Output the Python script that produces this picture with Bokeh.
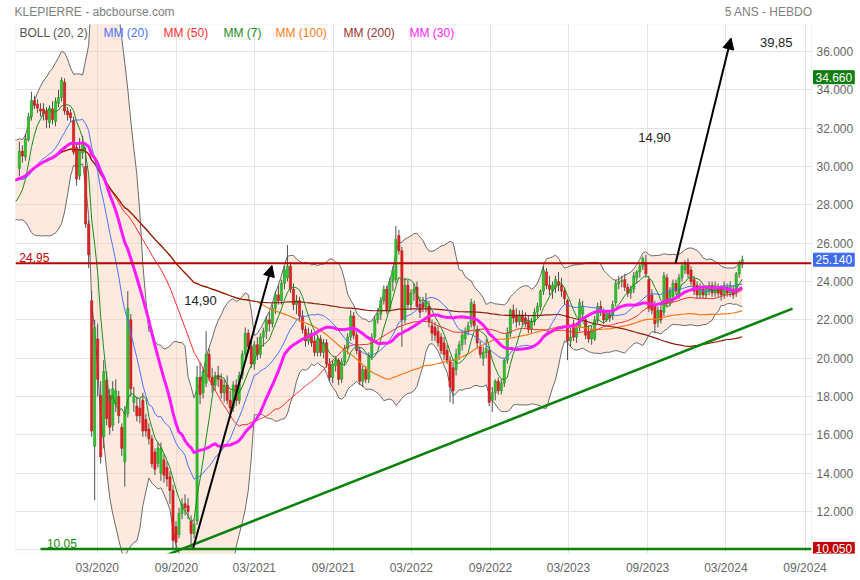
import pandas as pd
from bokeh.plotting import figure
from bokeh.models import (Range1d, FixedTicker, DatetimeTickFormatter, PrintfTickFormatter,
                          Label, Arrow, NormalHead, BoxAnnotation, ColumnDataSource)
from bokeh.embed import file_html
from bokeh.resources import INLINE

# ---------------- data (weekly candles) ----------------
FIRST_WEEK = "2019-04-15"          # first week of the 5-year data (not visible, warms up the averages)
HIDDEN_CLOSES = [30.4, 30.8, 30.2, 29.8, 29.4, 29.2, 29.0, 29.6, 30.0, 30.3,
                 30.5, 30.0, 29.5, 28.9, 28.4, 27.6, 27.0, 27.4, 28.6, 29.5]

OPEN = [29.9, 30.8, 30.5, 31.4, 32.6, 33.45, 33.25, 33.0, 33.0, 32.9,
        32.3, 33.0, 32.35, 33.3, 33.6, 34.4, 32.9, 32.8, 32.4, 31.0,
        29.5, 30.7, 30.0, 27.0, 23.0, 15.4, 21.0, 18.05, 15.9, 18.85,
        18.05, 16.5, 17.6, 18.0, 16.4, 14.6, 17.1, 22.0, 17.7, 17.5,
        17.4, 17.8, 16.8, 16.3, 15.8, 15.1, 14.5, 14.0, 14.7, 14.3,
        13.8, 13.1, 11.2, 10.8, 11.9, 12.4, 12.3, 11.5, 10.85, 11.5,
        19.0, 18.2, 18.7, 20.2, 19.0, 18.6, 19.1, 18.9, 18.2, 18.6,
        17.8, 17.4, 18.6, 17.8, 19.1, 20.2, 21.3, 20.6, 19.7, 20.7,
        20.2, 21.1, 21.4, 22.0, 21.8, 22.6, 23.3, 23.0, 23.9, 24.2,
        24.8, 23.6, 22.8, 23.0, 22.2, 21.5, 20.9, 21.3, 20.9, 20.3,
        21.0, 20.3, 20.8, 19.7, 19.0, 19.6, 19.9, 18.9, 19.8, 20.5,
        21.1, 22.2, 21.2, 20.4, 18.8, 19.4, 18.9, 20.1, 21.1, 22.0,
        22.3, 23.0, 23.6, 22.6, 24.0, 24.1, 26.4, 25.6, 22.0, 23.8,
        22.8, 23.4, 23.7, 22.8, 22.9, 22.65, 22.7, 21.7, 21.6, 21.4,
        21.1, 20.8, 20.4, 19.9, 19.5, 19.4, 20.2, 20.7, 21.0, 21.4,
        21.8, 22.8, 21.5, 20.6, 20.0, 20.3, 20.4, 17.8, 18.2, 18.8,
        18.3, 18.7, 19.9, 21.3, 22.5, 22.2, 21.9, 22.2, 22.1, 21.9,
        21.5, 21.9, 22.4, 22.7, 23.5, 24.5, 23.8, 23.5, 23.7, 24.0,
        23.8, 23.5, 23.0, 20.9, 21.8, 21.1, 21.6, 22.3, 22.0, 21.4,
        21.0, 21.0, 22.0, 22.7, 22.4, 22.0, 22.3, 22.2, 22.9, 23.9,
        24.0, 24.1, 23.7, 23.4, 23.6, 24.2, 24.5, 24.8, 25.0, 24.1,
        23.3, 22.8, 21.9, 22.5, 22.4, 24.2, 22.9, 23.2, 23.9, 23.3,
        24.2, 24.6, 24.9, 24.6, 24.1, 23.8, 23.3, 23.6, 23.3, 23.5,
        23.8, 23.4, 23.7, 23.6, 23.3, 23.7, 23.4, 23.6, 23.4, 24.4,
        24.9]

HIGH = [31.3, 31.1, 31.7, 32.8, 33.9, 33.7, 33.5, 33.3, 33.3, 33.1,
        33.2, 33.4, 33.6, 34.0, 34.66, 34.6, 33.1, 33.0, 32.6, 31.2,
        31.5, 31.6, 31.0, 27.2, 23.5, 22.0, 21.8, 18.8, 19.9, 19.3,
        18.4, 18.8, 18.9, 18.3, 16.6, 17.5, 23.5, 22.3, 18.5, 18.0,
        17.9, 18.2, 17.1, 16.6, 16.0, 15.3, 15.6, 15.6, 15.0, 14.6,
        14.1, 13.4, 11.5, 12.2, 12.7, 12.9, 12.7, 11.8, 11.6, 19.6,
        19.8, 19.5, 21.4, 20.5, 19.5, 19.3, 19.6, 19.2, 18.9, 19.1,
        18.3, 18.8, 18.9, 19.3, 20.4, 21.6, 21.5, 20.9, 20.9, 21.1,
        21.3, 21.6, 22.2, 22.4, 22.8, 23.5, 23.8, 24.1, 24.8, 25.9,
        25.0, 23.9, 23.3, 23.2, 22.5, 21.7, 21.6, 21.5, 21.2, 21.2,
        21.2, 21.0, 21.0, 20.0, 19.9, 20.1, 20.0, 20.0, 20.7, 21.3,
        22.5, 22.4, 21.4, 20.6, 19.6, 19.6, 20.3, 21.3, 22.2, 22.6,
        23.2, 23.8, 23.8, 24.2, 24.8, 26.9, 26.7, 25.8, 24.2, 24.1,
        23.6, 23.9, 24.0, 23.2, 23.2, 23.4, 23.0, 22.0, 21.9, 21.7,
        21.3, 21.1, 20.7, 20.1, 19.8, 20.5, 20.9, 21.4, 21.6, 21.9,
        23.1, 23.0, 21.7, 20.9, 20.6, 21.0, 20.6, 18.5, 18.9, 19.0,
        18.9, 20.0, 21.6, 22.6, 22.8, 22.6, 22.5, 22.5, 22.4, 22.2,
        22.1, 22.6, 22.9, 23.6, 24.8, 24.7, 24.3, 24.0, 24.3, 24.5,
        24.2, 23.7, 23.1, 21.6, 22.0, 21.8, 23.1, 23.0, 22.2, 21.7,
        21.7, 22.2, 22.9, 23.0, 22.6, 22.5, 22.5, 23.0, 24.1, 24.3,
        24.3, 24.4, 23.9, 23.8, 24.5, 24.6, 25.0, 25.3, 25.4, 24.3,
        23.6, 23.0, 22.7, 22.8, 24.5, 24.4, 23.7, 24.1, 24.1, 24.4,
        25.0, 25.1, 25.2, 24.8, 24.3, 24.0, 23.9, 23.8, 23.8, 24.0,
        24.0, 24.0, 23.9, 23.8, 24.0, 23.9, 24.0, 23.8, 24.5, 25.1,
        25.35]

LOW = [29.5, 30.2, 30.3, 31.3, 32.4, 33.0, 32.8, 32.6, 32.4, 32.0,
       32.0, 32.2, 32.1, 33.1, 33.4, 32.7, 32.4, 32.3, 30.6, 29.0,
       29.3, 30.4, 26.8, 24.7, 15.9, 12.6, 18.0, 14.5, 15.3, 16.5,
       16.0, 16.2, 17.2, 16.6, 14.9, 13.3, 16.9, 18.0, 17.2, 16.7,
       16.6, 15.9, 15.9, 15.5, 14.3, 13.9, 14.3, 13.6, 13.5, 13.3,
       12.4, 10.05, 10.1, 10.6, 11.6, 11.8, 11.6, 10.1, 10.6, 11.3,
       17.6, 17.9, 18.5, 18.8, 18.2, 18.3, 18.5, 17.9, 17.7, 17.6,
       16.9, 17.2, 17.5, 17.6, 18.9, 20.0, 20.3, 19.5, 19.4, 19.9,
       20.0, 20.6, 21.0, 21.4, 21.6, 22.3, 22.8, 22.8, 23.6, 24.0,
       23.4, 22.5, 22.3, 21.9, 21.3, 20.6, 20.7, 20.6, 20.1, 20.1,
       20.1, 20.0, 19.5, 18.8, 18.7, 19.3, 18.6, 18.7, 19.6, 20.2,
       20.9, 21.0, 20.2, 18.6, 18.5, 18.7, 18.7, 19.9, 20.9, 21.8,
       22.0, 22.8, 22.3, 22.4, 23.5, 23.9, 25.4, 20.6, 21.8, 22.6,
       22.5, 23.0, 22.6, 22.1, 22.4, 22.4, 21.6, 20.9, 20.9, 20.6,
       20.2, 19.9, 19.7, 17.7, 17.6, 19.1, 19.9, 20.4, 20.7, 21.2,
       21.6, 21.5, 20.5, 20.0, 19.6, 20.0, 17.5, 17.2, 17.8, 18.1,
       18.1, 18.5, 19.7, 21.1, 21.8, 21.6, 21.7, 21.7, 21.6, 21.3,
       21.3, 21.7, 22.1, 22.5, 23.3, 23.6, 23.3, 23.1, 23.4, 23.5,
       23.2, 22.8, 19.9, 20.6, 20.9, 20.8, 21.4, 22.0, 21.0, 20.8,
       20.7, 20.9, 21.8, 22.2, 21.8, 21.9, 21.9, 22.0, 22.7, 23.6,
       23.7, 23.5, 23.2, 23.1, 23.4, 23.9, 24.2, 24.6, 24.2, 22.4,
       22.3, 21.3, 21.6, 21.8, 22.2, 22.7, 22.7, 23.0, 23.3, 23.1,
       24.0, 24.4, 24.2, 23.8, 23.3, 23.1, 23.1, 23.1, 23.1, 23.3,
       23.2, 23.2, 23.2, 23.0, 23.1, 23.2, 23.2, 23.1, 23.2, 24.2,
       24.7]

CLOSE = [30.8, 30.55, 31.45, 32.6, 33.45, 33.2, 33.05, 32.9, 32.75, 32.45,
         33.05, 32.45, 33.4, 33.6, 34.5, 32.9, 32.7, 32.55, 30.75, 29.35,
         30.9, 31.2, 27.0, 25.4, 16.2, 21.6, 18.9, 14.85, 19.3, 16.85,
         16.4, 18.4, 18.3, 17.0, 15.3, 17.1, 22.6, 18.4, 18.0, 17.0,
         17.0, 16.2, 16.2, 15.8, 14.5, 14.2, 15.3, 15.3, 13.9, 13.7,
         13.1, 10.5, 10.4, 11.9, 12.4, 12.2, 12.0, 10.85, 11.35, 19.0,
         18.1, 19.3, 20.2, 19.0, 18.6, 19.1, 18.9, 18.2, 18.6, 17.8,
         17.4, 18.6, 17.8, 19.1, 20.2, 21.3, 20.6, 19.7, 20.7, 20.2,
         21.1, 21.4, 22.0, 21.8, 22.6, 23.3, 23.0, 23.9, 24.6, 24.8,
         23.6, 22.8, 23.0, 22.2, 21.5, 20.9, 21.3, 20.8, 20.3, 21.0,
         20.3, 20.8, 19.7, 19.0, 19.7, 19.9, 18.9, 19.8, 20.5, 21.1,
         22.2, 21.2, 20.4, 18.8, 19.4, 18.9, 20.1, 21.1, 22.0, 22.3,
         23.0, 23.6, 22.5, 24.0, 24.6, 26.2, 25.6, 22.0, 23.8, 22.8,
         23.4, 23.6, 22.7, 22.4, 22.65, 23.0, 21.9, 21.3, 21.2, 20.8,
         20.4, 20.2, 19.9, 18.5, 18.3, 20.2, 20.7, 21.2, 21.4, 21.7,
         22.9, 21.7, 20.8, 20.2, 20.3, 20.5, 17.7, 18.2, 18.8, 18.3,
         18.7, 19.9, 21.3, 22.5, 22.1, 21.9, 22.2, 21.9, 21.8, 21.5,
         21.9, 22.4, 22.7, 23.5, 24.6, 23.8, 23.6, 23.8, 24.1, 23.8,
         23.5, 23.1, 20.9, 21.1, 21.1, 21.6, 22.9, 22.7, 21.2, 21.0,
         21.5, 22.0, 22.7, 22.4, 22.0, 22.3, 22.1, 22.8, 23.9, 24.0,
         24.05, 23.7, 23.4, 23.6, 24.3, 24.5, 24.8, 25.2, 24.4, 22.6,
         22.5, 21.8, 22.5, 22.0, 24.3, 22.9, 23.5, 23.9, 23.5, 24.2,
         24.8, 24.9, 24.4, 24.0, 23.5, 23.3, 23.6, 23.3, 23.6, 23.8,
         23.4, 23.8, 23.4, 23.3, 23.8, 23.4, 23.8, 23.3, 24.4, 25.0,
         25.14]

Y_TICKS = [10, 12, 14, 16, 18, 20, 22, 24, 26, 28, 30, 32, 34, 36]
X_TICKS = ["2020-03-01", "2020-09-01", "2021-03-01", "2021-09-01", "2022-03-01",
           "2022-09-01", "2023-03-01", "2023-09-01", "2024-03-01", "2024-09-01"]
PLOT_START = "2019-08-24"          # left edge of the price area
PLOT_END = "2024-09-16"            # right edge of the price area (the price scale sits here)
PAGE_END = "2025-01-07 21:00"      # right edge of the page, beyond the price scale
Y_VIEW = [9.81, 37.41]

RESISTANCE = 24.95
SUPPORT = 10.05
SUPPORT_FROM = "2019-10-21"
LAST_PRICE = 25.14
TOP_PRICE = 34.66
BOTTOM_PRICE = 10.05
TREND_DATES = ["2020-08-07", "2024-08-03"]
TREND_VALUES = [9.71, 22.59]
ARROW_1 = [("2020-10-10", 10.1), ("2021-04-11", 24.84)]
ARROW_2 = [("2023-11-05", 24.95), ("2024-03-13", 36.7)]
NOTE_TEXTS = ["14,90", "14,90", "39,85"]
NOTE_DATES = ["2020-10-27", "2023-09-17", "2024-06-26"]
NOTE_VALUES = [23.0, 31.5, 36.47]

# (period, colour, width) in drawing order
AVERAGES = [(100, "#ff7a1a", 1.2), (50, "#ff2b2b", 1.0), (200, "#8c1c13", 1.2),
            (20, "#4a72ff", 1.0), (7, "#1a8c1a", 1.0), (30, "#ff1aff", 3.0)]
LEGEND_TEXTS = ["BOLL (20, 2)", "MM (20)", "MM (50)", "MM (7)", "MM (100)", "MM (200)", "MM (30)"]
LEGEND_COLORS = ["#555555", "#4a72ff", "#ff3030", "#1a8c1a", "#ff7a1a", "#993333", "#ff22ff"]
LEGEND_X = [4, 88, 148, 208, 260, 328, 394]   # px from the left edge of the plot area

TITLE_LEFT = "KLEPIERRE - abcbourse.com"
TITLE_RIGHT = "5 ANS - HEBDO"

FONT = "Liberation Sans"


def ms(s):
    return pd.Timestamp(s).value / 1e6


# ---------------- indicators ----------------
n_all = len(HIDDEN_CLOSES) + len(CLOSE)
dates = pd.date_range(FIRST_WEEK, periods=n_all, freq="7D")
closes = pd.Series(HIDDEN_CLOSES + CLOSE, index=dates)
mid = closes.rolling(20, min_periods=1).mean()
sd = closes.rolling(20, min_periods=1).std(ddof=0).fillna(0)
upper = mid + 2 * sd
lower = mid - 2 * sd

vis_dates = dates[len(HIDDEN_CLOSES):]
df = pd.DataFrame(dict(date=vis_dates, o=OPEN, h=HIGH, l=LOW, c=CLOSE))
df["top"] = df[["o", "c"]].max(axis=1)
df["bottom"] = df[["o", "c"]].min(axis=1)
up = ColumnDataSource(df[df.c >= df.o])
down = ColumnDataSource(df[df.c < df.o])

# ---------------- figure ----------------
p = figure(width=860, height=580, x_axis_type="datetime", y_axis_location="right",
           x_range=Range1d(ms(PLOT_START), ms(PAGE_END)), y_range=Range1d(*Y_VIEW),
           toolbar_location=None, output_backend="svg",
           min_border_left=15, min_border_right=0, min_border_top=24, min_border_bottom=27)
p.background_fill_color = "white"
p.border_fill_color = "white"
p.outline_line_color = None
p.grid.grid_line_color = "#e4e4e4"

# title line: left and right texts (non-breaking spaces keep the gap)
p.title.text = TITLE_LEFT + "\u00a0" * 165 + TITLE_RIGHT
p.title.align = "left"
p.title.vertical_align = "top"
p.title.offset = -1
p.title.standoff = 8
p.title.text_font = FONT
p.title.text_font_size = "12px"
p.title.text_font_style = "normal"
p.title.text_color = "#808080"

xa = p.xaxis[0]
xa.ticker = FixedTicker(ticks=[ms(d) for d in X_TICKS])
xa.formatter = DatetimeTickFormatter(days="%m/%Y", months="%m/%Y", years="%m/%Y")
ya = p.yaxis[0]
ya.ticker = FixedTicker(ticks=Y_TICKS)
ya.formatter = PrintfTickFormatter(format="%.3f")
ya.fixed_location = ms(PLOT_END)     # price scale drawn at the right edge of the price area
for ax in (xa, ya):
    ax.axis_line_color = None
    ax.major_tick_line_color = None
    ax.minor_tick_line_color = None
    ax.major_tick_out = 0
    ax.major_tick_in = 0
    ax.minor_tick_out = 0
    ax.minor_tick_in = 0
    ax.major_label_text_font = FONT
    ax.major_label_text_font_size = "12px"
    ax.major_label_text_color = "#666666"
xa.major_label_standoff = 7
ya.major_label_standoff = 5

# Bollinger band
p.varea(x=dates, y1=lower, y2=upper, fill_color="#f9c9ad", fill_alpha=0.4)
p.line(dates, upper, line_color="#6a6a6a", line_width=1)
p.line(dates, lower, line_color="#6a6a6a", line_width=1)

# candles
W = 5 * 24 * 3600 * 1000
for src, fill, edge in ((up, "#2fc42f", "#1f9a1f"), (down, "#e52222", "#b01818")):
    p.segment(x0="date", y0="l", x1="date", y1="h", source=src, line_color="#505050", line_width=1)
    p.vbar(x="date", width=W, top="top", bottom="bottom", source=src,
           fill_color=fill, line_color=edge, line_width=0.6)

# moving averages
for n, col, w in AVERAGES:
    p.line(dates, closes.rolling(n, min_periods=1).mean(), line_color=col, line_width=w)

# horizontal levels
p.line([pd.Timestamp(PLOT_START), pd.Timestamp(PLOT_END)], [RESISTANCE, RESISTANCE],
       line_color="#b50000", line_width=2)
p.line([pd.Timestamp(SUPPORT_FROM), pd.Timestamp(PLOT_END)], [SUPPORT, SUPPORT],
       line_color="#0a820a", line_width=2.5)

# trend line
p.line([pd.Timestamp(d) for d in TREND_DATES], TREND_VALUES, line_color="#0a820a", line_width=2.5)

# blank margin right of the price area (hides the grid there, like the original)
p.quad(left=[ms(PLOT_END)], right=[ms(PAGE_END)], bottom=[Y_VIEW[0] - 1], top=[Y_VIEW[1] + 1],
       fill_color="white", line_color=None)

# frame of the price area
p.add_layout(BoxAnnotation(left=ms(PLOT_START), right=ms(PLOT_END), bottom=Y_VIEW[0], top=Y_VIEW[1],
                           fill_alpha=0, line_color="#d0d0d0", line_width=1))

p.add_layout(Label(x=ms("2019-09-02"), y=RESISTANCE, y_offset=1, text=f"{RESISTANCE:.2f}",
                   text_font=FONT, text_font_size="12px", text_color="#c00000", text_baseline="bottom"))
p.add_layout(Label(x=ms("2019-11-05"), y=SUPPORT, y_offset=1, text=f"{SUPPORT:.2f}",
                   text_font=FONT, text_font_size="12px", text_color="#118811", text_baseline="bottom"))

# arrows
for (d0, v0), (d1, v1) in (ARROW_1, ARROW_2):
    p.add_layout(Arrow(end=NormalHead(size=11, fill_color="black", line_color="black"),
                       x_start=ms(d0), y_start=v0, x_end=ms(d1), y_end=v1,
                       line_color="black", line_width=2))
for t, d, v in zip(NOTE_TEXTS, NOTE_DATES, NOTE_VALUES):
    p.add_layout(Label(x=ms(d), y=v, text=t, text_font=FONT, text_font_size="13px",
                       text_color="#222222", text_align="center", text_baseline="middle"))

# legend row (text only, as in the original)
FRAME_H = 529
for t, c, x in zip(LEGEND_TEXTS, LEGEND_COLORS, LEGEND_X):
    p.add_layout(Label(x=x, y=FRAME_H - 8, x_units="screen", y_units="screen", text=t,
                       text_font=FONT, text_font_size="12px", text_color=c, text_baseline="middle"))

# price boxes on the price scale
for v, bg in ((TOP_PRICE, "#0b7d0b"), (LAST_PRICE, "#3d6cf0"), (BOTTOM_PRICE, "#c00000")):
    p.add_layout(Label(x=ms(PLOT_END), x_offset=2, y=v, text=f"{v:.3f}",
                       text_font=FONT, text_font_size="12px", text_color="white",
                       text_baseline="middle", background_fill_color=bg, background_fill_alpha=1.0,
                       border_line_color=bg, padding=2))

open("out.html", "w").write(file_html(p, INLINE))
